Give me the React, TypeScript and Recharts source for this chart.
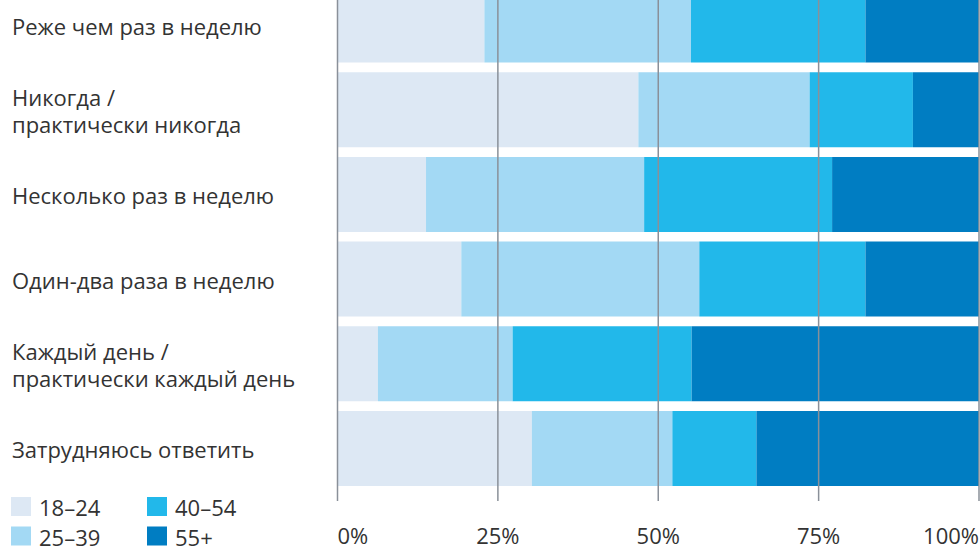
import React from "react";
import { BarChart, Bar, XAxis, YAxis, ReferenceLine, Legend } from "recharts";

// Частота (категории сверху вниз)
const categories = [
  "Реже чем раз в неделю",
  "Никогда /\nпрактически никогда",
  "Несколько раз в неделю",
  "Один-два раза в неделю",
  "Каждый день /\nпрактически каждый день",
  "Затрудняюсь ответить",
];

// доли возрастных групп, %
const age18_24 = [22.9, 46.9, 13.8, 19.3, 6.3, 30.3];
const age25_39 = [32.2, 26.7, 34.0, 37.1, 21.0, 21.9];
const age40_54 = [27.2, 16.1, 29.3, 25.9, 27.9, 13.1];
const age55plus = [17.7, 10.3, 22.9, 17.7, 44.8, 34.7];

const seriesNames = ["18–24", "25–39", "40–54", "55+"];
const xTicks = [0, 25, 50, 75, 100];

const COLORS = ["#dde8f4", "#a3d9f4", "#22b8ea", "#007dc2"];
const GRID = "#8a9099";
const TEXT = "#333333";
const FONT = "'Open Sans', sans-serif";

const data = categories.map((label, i) => ({
  label,
  a: age18_24[i],
  b: age25_39[i],
  c: age40_54[i],
  d: age55plus[i],
}));

const CategoryTick = (props: any) => {
  const { y, payload } = props;
  const lines = String(payload.value).split("\n");
  const lh = 27.5;
  const first = y + 9.5 - ((lines.length - 1) * lh) / 2;
  return (
    <text x={12} y={first} fill={TEXT} fontSize={22} fontFamily={FONT} textAnchor="start">
      {lines.map((l, i) => (
        <tspan key={i} x={12} y={first + i * lh}>
          {l}
        </tspan>
      ))}
    </text>
  );
};

const PercentTick = (props: any) => {
  const { x, y, payload } = props;
  const v = payload.value;
  const anchor = v === 0 ? "start" : v === 100 ? "end" : "middle";
  return (
    <text x={x} y={y + 41} fill={TEXT} fontSize={22} fontFamily={FONT} textAnchor={anchor}>
      {v}%
    </text>
  );
};

const LegendBox = (props: any) => {
  const items = props.payload || [];
  return (
    <svg width={340} height={60} style={{ overflow: "visible" }}>
      {items.map((it: any, i: number) => {
        const col = Math.floor(i / 2);
        const row = i % 2;
        const left = 11 + col * 136;
        const top = row * 29.5;
        return (
          <g key={i}>
            <rect x={left} y={top} width={20} height={19} fill={it.color} />
            <text x={left + 28} y={top + 19} fill={TEXT} fontSize={22} fontFamily={FONT}>
              {it.value}
            </text>
          </g>
        );
      })}
    </svg>
  );
};

export default function App() {
  return (
    <div style={{ position: "absolute", left: 0, top: -17, width: 980, height: 564, background: "#fff" }}>
      <BarChart
        width={980}
        height={564}
        data={data}
        layout="vertical"
        margin={{ top: 0, right: 1, left: 0, bottom: 0 }}
        barCategoryGap={4.6}
      >
        <XAxis
          type="number"
          domain={[0, 100]}
          ticks={xTicks}
          axisLine={false}
          tickLine={{ stroke: GRID, strokeWidth: 1.5 }}
          tickSize={10}
          height={56}
          tick={<PercentTick />}
          interval={0}
        />
        <YAxis
          type="category"
          dataKey="label"
          width={337.5}
          axisLine={false}
          tickLine={false}
          tick={<CategoryTick />}
          interval={0}
        />
        <Legend
          layout="vertical"
          align="center"
          verticalAlign="middle"
          wrapperStyle={{ left: 0, top: 514.3, width: 340, height: 50 }}
          content={<LegendBox />}
        />
        <Bar dataKey="a" name={seriesNames[0]} stackId="s" fill={COLORS[0]} isAnimationActive={false} />
        <Bar dataKey="b" name={seriesNames[1]} stackId="s" fill={COLORS[1]} isAnimationActive={false} />
        <Bar dataKey="c" name={seriesNames[2]} stackId="s" fill={COLORS[2]} isAnimationActive={false} />
        <Bar dataKey="d" name={seriesNames[3]} stackId="s" fill={COLORS[3]} isAnimationActive={false} />
        {xTicks.map((t) => (
          <ReferenceLine key={t} x={t} stroke={GRID} strokeWidth={1.5} />
        ))}
      </BarChart>
    </div>
  );
}
